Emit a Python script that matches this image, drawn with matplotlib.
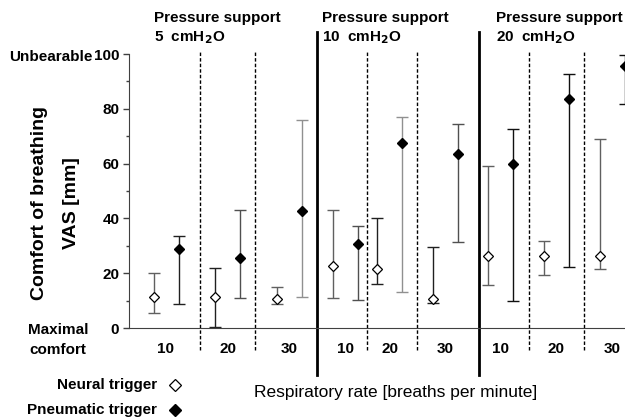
import matplotlib
matplotlib.use("Agg")
import matplotlib.pyplot as plt
from matplotlib.lines import Line2D

plt.rcParams['font.family'] = ['Liberation Sans', 'DejaVu Sans']

# ---- data ----
pressure_levels = ["5", "10", "20"]
rates = ["10", "20", "30"]
neural_mean = [11.3, 11.3, 10.6, 22.6, 21.5, 10.6, 26.3, 26.3, 26.3]
neural_low = [5.5, 0.5, 8.8, 11.0, 16.0, 9.2, 15.7, 19.3, 21.5]
neural_high = [20.0, 22.0, 15.0, 43.0, 40.1, 29.5, 59.0, 31.8, 69.0]
pneu_mean = [29.0, 25.7, 42.7, 30.7, 67.5, 63.5, 59.9, 83.6, 95.6]
pneu_low = [8.8, 11.0, 11.3, 10.2, 13.0, 31.4, 9.9, 22.3, 81.8]
pneu_high = [33.6, 43.0, 76.0, 37.2, 77.0, 74.5, 72.6, 92.7, 99.6]

# ---- layout (positions in axis units = pixels from axis left) ----
group_centers = [37, 98.5, 160.5, 216.5, 260.5, 316, 371.5, 427.5, 483]
offset = 12.5
dashed_x = [71, 126, 238, 288, 400, 455]
solid_x = [188, 350]
neural_colors = ['#606060', '#202020', '#606060', '#606060', '#202020', '#202020', '#606060', '#606060', '#606060']
pneu_colors = ['#202020', '#505050', '#909090', '#505050', '#909090', '#505050', '#101010', '#101010', '#101010']

W, H = 625, 417
fig = plt.figure(figsize=(W / 100, H / 100), dpi=100)
ax_left, ax_bottom, ax_top = 129, 328, 54
ax = fig.add_axes([ax_left / W, 1 - ax_bottom / H, (W - ax_left) / W, (ax_bottom - ax_top) / H])
ax.set_xlim(0, W - ax_left)
ax.set_ylim(0, 100)

for i, c in enumerate(group_centers):
    xn, xp = c - offset, c + offset
    ax.errorbar([xn], [neural_mean[i]],
                yerr=[[neural_mean[i] - neural_low[i]], [neural_high[i] - neural_mean[i]]],
                fmt='none', ecolor=neural_colors[i], elinewidth=1.0, capsize=4.3, capthick=1.0,
                clip_on=False, zorder=2)
    ax.plot([xn], [neural_mean[i]], marker='D', markersize=5.5, markerfacecolor='white',
            markeredgecolor='black', markeredgewidth=0.9, linestyle='none', clip_on=False, zorder=3)
    ax.errorbar([xp], [pneu_mean[i]],
                yerr=[[pneu_mean[i] - pneu_low[i]], [pneu_high[i] - pneu_mean[i]]],
                fmt='none', ecolor=pneu_colors[i], elinewidth=1.0, capsize=4.3, capthick=1.0,
                clip_on=False, zorder=2)
    ax.plot([xp], [pneu_mean[i]], marker='D', markersize=5.5, markerfacecolor='black',
            markeredgecolor='black', linestyle='none', clip_on=False, zorder=3)

for x in dashed_x:
    ax.axvline(x, ymin=-0.08, ymax=1.015, color='black', linestyle=(0, (2.5, 1.5)),
               linewidth=1.0, clip_on=False)
for x in solid_x:
    ax.axvline(x, ymin=-0.17, ymax=1.08, color='black', linewidth=2.0, clip_on=False)

for s in ['top', 'right']:
    ax.spines[s].set_visible(False)
ax.spines['left'].set_color('#404040')
ax.spines['bottom'].set_color('#404040')

ax.set_yticks([0, 20, 40, 60, 80, 100])
ax.set_yticks([10, 30, 50, 70, 90], minor=True)
ax.tick_params(axis='y', which='major', length=4, width=1, color='#404040', pad=3, labelsize=11)
ax.tick_params(axis='y', which='minor', length=2.5, width=1, color='#404040')
for lab in ax.get_yticklabels():
    lab.set_fontweight('bold')

ax.set_xticks(group_centers)
ax.set_xticklabels(rates * len(pressure_levels), fontsize=11, fontweight='bold')
ax.tick_params(axis='x', length=0, pad=10)

def P(x, y):
    return x / W, 1 - y / H

title_x = [154, 322, 496]
for tx, p in zip(title_x, pressure_levels):
    fig.text(*P(tx, 18), "Pressure support", fontsize=11, fontweight='bold', va='center', ha='left')
    fig.text(*P(tx, 38), p + "  cmH$_\\mathbf{2}$O", fontsize=11, fontweight='bold', va='center', ha='left')

fig.text(*P(93, 57), "Unbearable", fontsize=11, fontweight='bold', ha='right', va='center')
fig.text(*P(58, 330), "Maximal", fontsize=11, fontweight='bold', ha='center', va='center')
fig.text(*P(58, 350), "comfort", fontsize=11, fontweight='bold', ha='center', va='center')
fig.text(*P(40, 203), "Comfort of breathing", fontsize=14, fontweight='bold', rotation=90,
         ha='center', va='center')
fig.text(*P(72, 203), "VAS [mm]", fontsize=14, fontweight='bold', rotation=90,
         ha='center', va='center')

fig.text(*P(157, 385), "Neural trigger", fontsize=11, fontweight='bold', ha='right', va='center')
fig.text(*P(157, 410), "Pneumatic trigger", fontsize=11, fontweight='bold', ha='right', va='center')
fig.add_artist(Line2D([175 / W], [1 - 385 / H], marker='D', markersize=6, markerfacecolor='white',
                      markeredgecolor='black', markeredgewidth=0.9, transform=fig.transFigure))
fig.add_artist(Line2D([175 / W], [1 - 410 / H], marker='D', markersize=6, markerfacecolor='black',
                      markeredgecolor='black', transform=fig.transFigure))
fig.text(*P(396, 393), "Respiratory rate [breaths per minute]", fontsize=12.5, ha='center', va='center')

fig.savefig("out.png", dpi=100)
